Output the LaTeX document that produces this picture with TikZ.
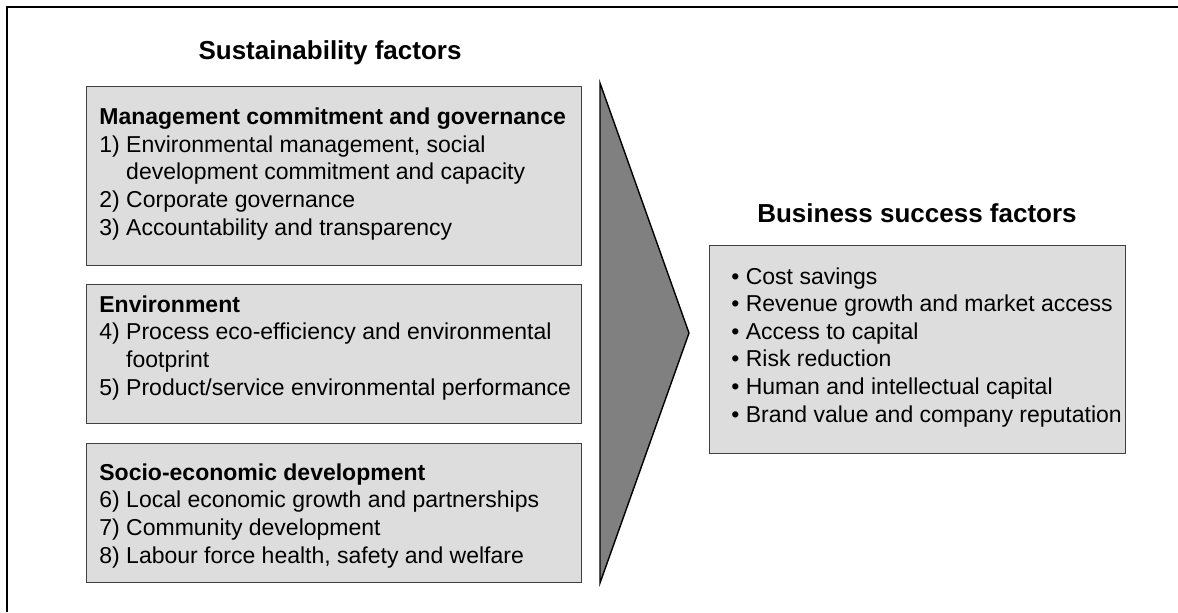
\documentclass[tikz,border=0pt]{standalone}
\usepackage{fontspec}
\setmainfont{Liberation Sans}
\definecolor{boxgray}{HTML}{DDDDDD}
\definecolor{edgegray}{HTML}{404040}
\definecolor{arrowgray}{HTML}{808080}
\begin{document}
\begin{tikzpicture}[x=0.5pt,y=-0.5pt,
    factorbox/.style={draw=edgegray,fill=boxgray,line width=0.6pt,anchor=north west,inner sep=0pt},
    heading/.style={font=\fontsize{13}{15.6}\selectfont\bfseries,anchor=base},
    boxtext/.style={font=\fontsize{11.5}{13.8}\selectfont,anchor=base west,align=left,inner sep=0pt}]
    \useasboundingbox (0,0) rectangle (1178,612);

    % frame
    \draw [line width=1pt] (7,612)--(7,7)--(1178,7);

    % left column (text nodes sit on their last baseline)
    \node [heading] (sustTitle) at (330,59) {Sustainability factors};
    \node [factorbox,minimum width=247.5pt,minimum height=89.5pt] (mgmtBox) at (86,86) {};
    \node [factorbox,minimum width=247.5pt,minimum height=69.5pt] (envBox) at (86,284) {};
    \node [factorbox,minimum width=247.5pt,minimum height=69.5pt] (socioBox) at (86,443) {};

    \node [boxtext] (mgmtText) at (99,235) {\textbf{Management commitment and governance}\\
        1) Environmental management, social\\
        \phantom{1) }development commitment and capacity\\
        2) Corporate governance\\
        3) Accountability and transparency};
    \node [boxtext] (envText) at (99,395) {\textbf{Environment}\\
        4) Process eco-efficiency and environmental\\
        \phantom{4) }footprint\\
        5) Product/service environmental performance};
    \node [boxtext] (socioText) at (99,563) {\textbf{Socio-economic development}\\
        6) Local economic growth and partnerships\\
        7) Community development\\
        8) Labour force health, safety and welfare};

    % big arrow
    \path [fill=arrowgray,draw=black,line width=0.7pt,line join=miter] (600,83)--(689,333)--(600,583)--cycle;

    % right column
    \node [heading] (bizTitle) at (917,222) {Business success factors};
    \node [factorbox,minimum width=208pt,minimum height=104pt] (bizBox) at (709,245) {};
    \node [boxtext] (bizText) at (731,422) {\textbullet{} Cost savings\\
        \textbullet{} Revenue growth and market access\\
        \textbullet{} Access to capital\\
        \textbullet{} Risk reduction\\
        \textbullet{} Human and intellectual capital\\
        \textbullet{} Brand value and company reputation};
\end{tikzpicture}
\end{document}
